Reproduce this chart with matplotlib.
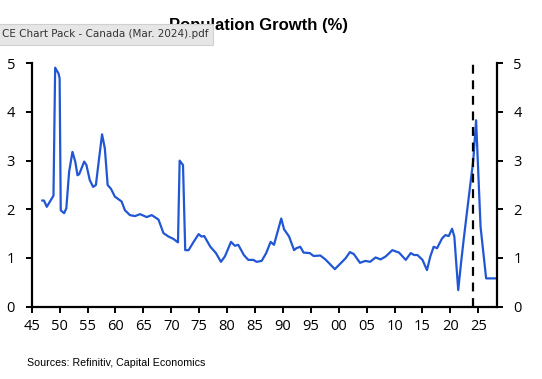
import matplotlib.pyplot as plt

# Canada population growth (%)
years = [1946.9, 1947.2, 1947.7, 1948.9, 1949.2, 1949.8, 1950.0, 1950.2, 1950.8, 1951.2,
         1951.7, 1952.3, 1952.8, 1953.2, 1953.5, 1954.4, 1954.8, 1955.4, 1956.0, 1956.5,
         1957.0, 1957.6, 1958.1, 1958.6, 1959.2, 1959.9, 1961.1, 1961.7, 1962.6, 1963.5,
         1964.4, 1965.6, 1966.5, 1967.7, 1968.6, 1969.5, 1970.4, 1971.2, 1971.5, 1972.1,
         1972.5, 1973.1, 1974.0, 1974.9, 1975.4, 1975.9, 1977.0, 1978.0, 1978.9, 1979.6,
         1980.7, 1981.4, 1982.0, 1983.0, 1983.8, 1984.7, 1985.3, 1986.2, 1987.0, 1987.8,
         1988.4, 1989.7, 1990.2, 1991.1, 1992.0, 1992.4, 1993.1, 1993.7, 1994.8, 1995.5,
         1996.7, 1997.6, 1999.3, 2000.6, 2001.2, 2002.0, 2002.7, 2003.8, 2004.8, 2005.6,
         2006.6, 2007.5, 2008.4, 2009.6, 2010.8, 2012.0, 2012.9, 2013.5, 2014.1, 2015.0,
         2015.8, 2016.4, 2017.0, 2017.6, 2018.5, 2019.1, 2019.7, 2020.3, 2020.7, 2021.4,
         2021.9, 2022.4, 2023.3, 2024.1, 2024.6, 2025.4, 2026.4, 2028.3]
growth = [2.18, 2.18, 2.05, 2.28, 4.91, 4.79, 4.69, 1.98, 1.92, 2.02,
          2.77, 3.18, 2.98, 2.70, 2.72, 2.98, 2.91, 2.60, 2.46, 2.50,
          2.98, 3.54, 3.25, 2.50, 2.42, 2.26, 2.16, 1.98, 1.88, 1.86,
          1.90, 1.84, 1.88, 1.79, 1.51, 1.44, 1.39, 1.32, 3.00, 2.91,
          1.16, 1.16, 1.33, 1.49, 1.44, 1.45, 1.23, 1.10, 0.92, 1.03,
          1.33, 1.25, 1.27, 1.06, 0.96, 0.96, 0.92, 0.94, 1.10, 1.33,
          1.27, 1.81, 1.59, 1.44, 1.16, 1.20, 1.23, 1.11, 1.10, 1.04,
          1.05, 0.97, 0.77, 0.92, 0.99, 1.12, 1.08, 0.90, 0.94, 0.92,
          1.01, 0.97, 1.03, 1.16, 1.11, 0.96, 1.10, 1.06, 1.06, 0.96,
          0.75, 1.03, 1.23, 1.20, 1.40, 1.47, 1.45, 1.60, 1.44, 0.34,
          0.89, 1.40, 2.26, 3.01, 3.83, 1.64, 0.58, 0.58]

forecast_start = 2024.0
x_ticks = list(range(1945, 2026, 5))
x_labels = [f"{y % 100:02d}" for y in x_ticks]
y_ticks = [0, 1, 2, 3, 4, 5]

fig = plt.figure(figsize=(5.42, 3.79), dpi=100)
ax = fig.add_axes([0.0585, 0.191, 0.858, 0.642])

ax.plot(years, growth, color='#2157d4', lw=1.6, solid_joinstyle='round')
ax.axvline(forecast_start, color='black', lw=1.6, ls=(0, (4, 3)))

ax.set_xlim(1945, 2028.3)
ax.set_ylim(0, 5)
ax.set_xticks(x_ticks)
ax.set_xticklabels(x_labels)
ax.set_yticks(y_ticks)

for side in ['left', 'right', 'bottom']:
    ax.spines[side].set_linewidth(1.6)
ax.spines['top'].set_visible(False)
ax.tick_params(axis='both', direction='out', length=4, width=1.4,
               labelsize=10.5, pad=5)
ax.tick_params(axis='y', right=True, labelright=True, pad=8)
for lab in ax.get_xticklabels() + ax.get_yticklabels():
    lab.set_family('Open Sans')

fig.text(0.477, 0.933, 'Population Growth (%)', ha='center', va='center',
         fontsize=12, fontweight='bold', family='Liberation Sans')
fig.text(0.05, 0.042, 'Sources: Refinitiv, Capital Economics', ha='left',
         va='center', fontsize=7.7, family='Liberation Sans')

# viewer tooltip that sits over the title in the screenshot
fig.text(0.003, 0.909, 'CE Chart Pack - Canada (Mar. 2024).pdf', ha='left',
         va='center', fontsize=7.5, color='#333333', family='DejaVu Sans',
         bbox=dict(boxstyle='square,pad=0.5', fc='#e6e6e6', ec='#d0d0d0', lw=0.8))

fig.savefig('out.png', dpi=100)
